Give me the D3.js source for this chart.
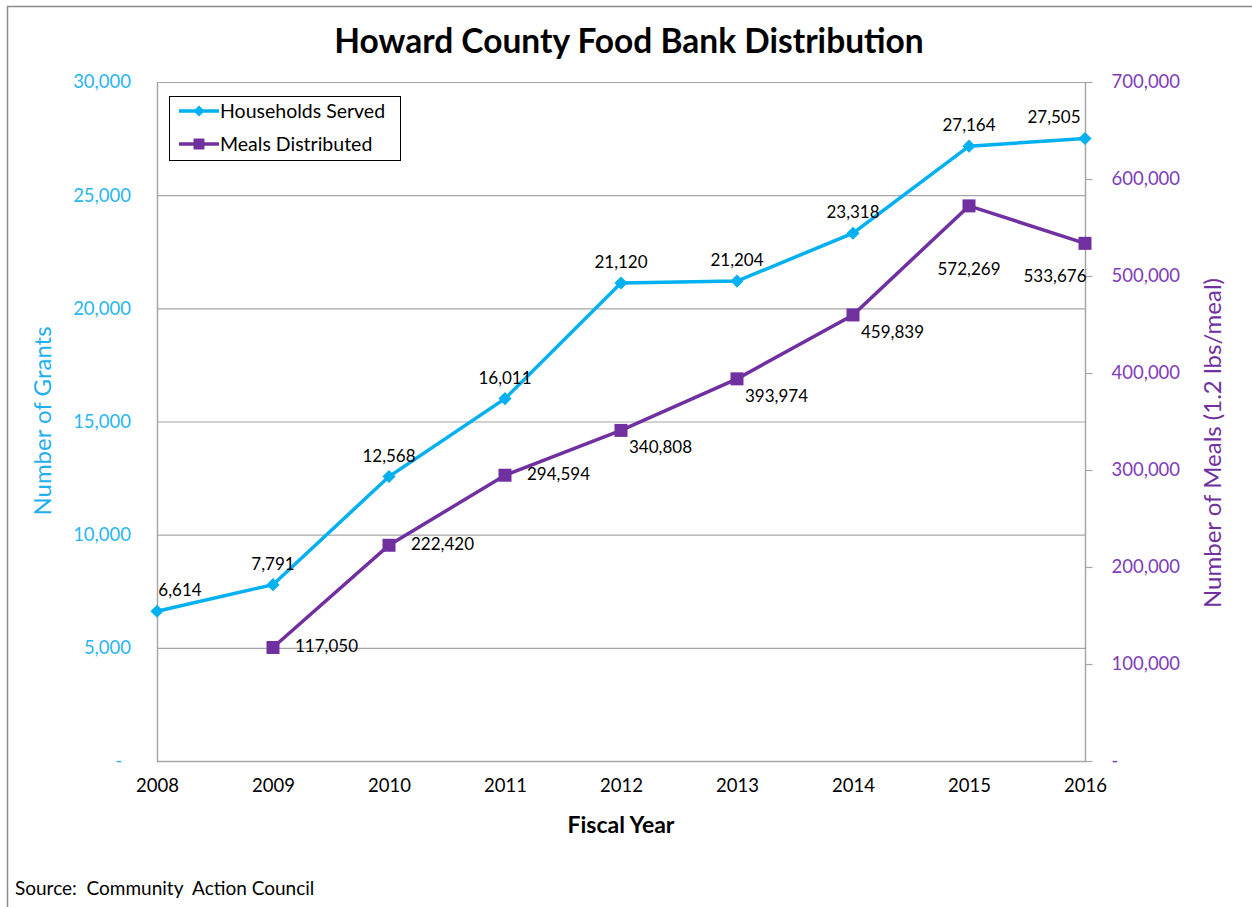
<!DOCTYPE html>
<html>
<head>
<meta charset="utf-8">
<script src="https://cdn.jsdelivr.net/npm/d3@7"></script>
<style>
  body { margin: 0; background: #fff; }
  text { font-family: Lato, "Open Sans", sans-serif; }
</style>
</head>
<body>
<svg id="chart" width="1252" height="907"></svg>
<script>
// data
var years = [2008, 2009, 2010, 2011, 2012, 2013, 2014, 2015, 2016];
var households = [6614, 7791, 12568, 16011, 21120, 21204, 23318, 27164, 27505];
var mealYears = [2009, 2010, 2011, 2012, 2013, 2014, 2015, 2016];
var meals = [117050, 222420, 294594, 340808, 393974, 459839, 572269, 533676];
var leftTicks = [0, 5000, 10000, 15000, 20000, 25000, 30000];
var rightTicks = [0, 100000, 200000, 300000, 400000, 500000, 600000, 700000];
// where Excel put each meals label relative to its point
var mealLabelSide = ['right', 'right', 'right', 'belowRight', 'belowRight', 'belowRight', 'below', 'belowLeft'];

var cyan = '#00b0f0', purple = '#7030a0', grid = '#a6a6a6';

var svg = d3.select('#chart');

// outer frame (left and top edges show in the reference)
svg.append('path')
    .attr('d', 'M7.5,907 V6.5 H1252')
    .attr('fill', 'none').attr('stroke', '#8c8c8c').attr('stroke-width', 1.5);

var plot = {l: 157, r: 1085, t: 82, b: 761};

var x = d3.scaleLinear().domain([2008, 2016]).range([plot.l, plot.r]);
var yL = d3.scaleLinear().domain([0, 30000]).range([plot.b, plot.t]);
var yR = d3.scaleLinear().domain([0, 700000]).range([plot.b, plot.t]);

var fmt = d3.format(',');

// gridlines from left axis
svg.append('g').selectAll('line')
    .data(leftTicks.slice(1))
    .join('line')
    .attr('x1', plot.l).attr('x2', plot.r)
    .attr('y1', function(d) { return yL(d) + 0.5; })
    .attr('y2', function(d) { return yL(d) + 0.5; })
    .attr('stroke', grid).attr('stroke-width', 1.2);

// plot border left / bottom / right
svg.append('path')
    .attr('d', 'M' + (plot.l + 0.5) + ',' + plot.t + ' V' + (plot.b + 0.5) + ' H' + (plot.r + 0.5) + ' V' + plot.t)
    .attr('fill', 'none').attr('stroke', grid).attr('stroke-width', 1.5);

// left axis
var leftAx = svg.append('g')
    .attr('transform', 'translate(' + plot.l + ',0)')
    .call(d3.axisLeft(yL).tickValues(leftTicks).tickSize(0).tickPadding(26)
        .tickFormat(function(d) { return d === 0 ? '-' : fmt(d); }));
leftAx.select('.domain').remove();
leftAx.selectAll('text').attr('fill', '#29b6f0').style('font-size', '18.5px')
    .attr('dx', function(d) { return d === 0 ? -9 : 0; });

// right axis
var rightAx = svg.append('g')
    .attr('transform', 'translate(' + (plot.r + 0.5) + ',0)')
    .call(d3.axisRight(yR).tickValues(rightTicks).tickSize(7).tickPadding(19)
        .tickFormat(function(d) { return d === 0 ? '-' : fmt(d); }));
rightAx.select('.domain').remove();
rightAx.selectAll('line').attr('stroke', grid).attr('stroke-width', 1.2);
rightAx.selectAll('text').attr('fill', '#7f3cb8').style('font-size', '18.5px');

// x axis
var xAx = svg.append('g')
    .attr('transform', 'translate(0,' + plot.b + ')')
    .call(d3.axisBottom(x).tickValues(years).tickSize(0).tickPadding(18)
        .tickFormat(d3.format('d')));
xAx.select('.domain').remove();
xAx.selectAll('text').attr('fill', '#000').style('font-size', '18.5px');

// lines
var lineL = d3.line()
    .x(function(d, i) { return x(years[i]); })
    .y(function(d) { return yL(d); });
var lineR = d3.line()
    .x(function(d, i) { return x(mealYears[i]); })
    .y(function(d) { return yR(d); });

svg.append('path').datum(households)
    .attr('d', lineL).attr('fill', 'none').attr('stroke', cyan).attr('stroke-width', 3.5);
svg.append('path').datum(meals)
    .attr('d', lineR).attr('fill', 'none').attr('stroke', purple).attr('stroke-width', 3.5);

// markers
var diamond = d3.symbol().type(d3.symbolDiamond2).size(110);
svg.append('g').selectAll('path')
    .data(households)
    .join('path')
    .attr('d', diamond)
    .attr('transform', function(d, i) { return 'translate(' + x(years[i]) + ',' + yL(d) + ')'; })
    .attr('fill', cyan);

svg.append('g').selectAll('rect')
    .data(meals)
    .join('rect')
    .attr('x', function(d, i) { return x(mealYears[i]) - 6.5; })
    .attr('y', function(d) { return yR(d) - 6.5; })
    .attr('width', 13).attr('height', 13)
    .attr('fill', purple);

// data labels
svg.append('g').selectAll('text')
    .data(households)
    .join('text')
    .attr('x', function(d, i) {
        var px = x(years[i]);
        return Math.min(Math.max(px, plot.l + 23), plot.r - 31);
    })
    .attr('y', function(d) { return yL(d) - 15; })
    .attr('text-anchor', 'middle')
    .style('font-size', '17px')
    .attr('fill', '#000')
    .text(function(d) { return fmt(d); });

svg.append('g').selectAll('text')
    .data(meals)
    .join('text')
    .attr('x', function(d, i) {
        var px = x(mealYears[i]), side = mealLabelSide[i];
        if (side === 'below') return px;
        if (side === 'belowLeft') return px - 30;
        if (side === 'belowRight') return px + 8;
        return px + 22;
    })
    .attr('y', function(d, i) {
        var py = yR(d), side = mealLabelSide[i];
        if (side === 'right') return py + 5;
        if (side === 'belowRight') return py + 23;
        if (side === 'below') return py + 69;
        return py + 39;
    })
    .attr('text-anchor', function(d, i) {
        var side = mealLabelSide[i];
        return (side === 'right' || side === 'belowRight') ? 'start' : 'middle';
    })
    .style('font-size', '17px')
    .attr('fill', '#000')
    .text(function(d) { return fmt(d); });

// legend
var leg = svg.append('g').attr('transform', 'translate(169,96)');
leg.append('rect').attr('x', 0.5).attr('y', 0.5).attr('width', 231).attr('height', 64)
    .attr('fill', '#fff').attr('stroke', '#000').attr('stroke-width', 1);
var legItems = [
    {name: 'Households Served', color: cyan, shape: 'diamond'},
    {name: 'Meals Distributed', color: purple, shape: 'square'}
];
var li = leg.selectAll('g.item').data(legItems).join('g')
    .attr('class', 'item')
    .attr('transform', function(d, i) { return 'translate(10,' + (15 + i * 33) + ')'; });
li.append('line').attr('x1', 0).attr('x2', 40).attr('y1', 0).attr('y2', 0)
    .attr('stroke', function(d) { return d.color; }).attr('stroke-width', 3.5);
li.append('path')
    .attr('d', function(d) {
        return d.shape === 'diamond'
            ? d3.symbol().type(d3.symbolDiamond2).size(80)()
            : d3.symbol().type(d3.symbolSquare).size(120)();
    })
    .attr('transform', 'translate(20,0)')
    .attr('fill', function(d) { return d.color; });
li.append('text').attr('x', 41).attr('y', 7)
    .style('font-size', '19.5px').attr('fill', '#000')
    .text(function(d) { return d.name; });

// titles
svg.append('text').attr('x', 629).attr('y', 53)
    .attr('text-anchor', 'middle').style('font-size', '33.5px').style('font-weight', 'bold')
    .attr('fill', '#000').text('Howard County Food Bank Distribution');

svg.append('text').attr('x', 621).attr('y', 833)
    .attr('text-anchor', 'middle').style('font-size', '23px').style('font-weight', 'bold')
    .attr('fill', '#000').text('Fiscal Year');

svg.append('text')
    .attr('transform', 'translate(51,421) rotate(-90)')
    .attr('text-anchor', 'middle').style('font-size', '24px')
    .attr('fill', '#1fb0ee').text('Number of Grants');

svg.append('text')
    .attr('transform', 'translate(1221,443) rotate(-90)')
    .attr('text-anchor', 'middle').style('font-size', '24px')
    .attr('fill', purple).text('Number of Meals (1.2 lbs/meal)');

svg.append('text').attr('x', 15).attr('y', 895)
    .style('font-size', '19px').style('white-space', 'pre').attr('fill', '#000')
    .text('Source:  Community  Action Council');
</script>
</body>
</html>
